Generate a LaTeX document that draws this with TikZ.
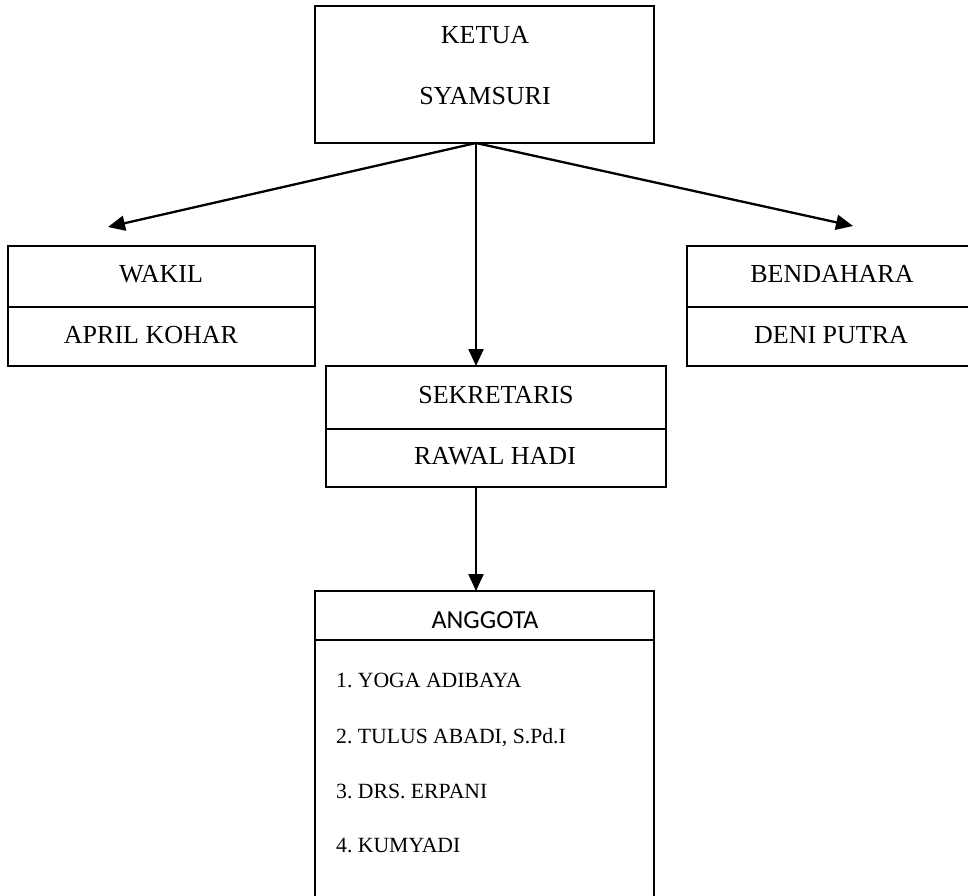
\documentclass[tikz,border=0pt]{standalone}
\usepackage{fontspec}
\setmainfont{Liberation Serif}
\newfontfamily\calib{Carlito}
\usetikzlibrary{arrows.meta}
\frenchspacing
\begin{document}
\begin{tikzpicture}[x=1pt,y=-1pt,
  orgbox/.style={draw,line width=2.3pt,inner sep=0pt},
  lbl/.style={inner sep=0pt,anchor=base,font=\fontsize{26}{30}\selectfont},
  item/.style={inner sep=0pt,anchor=base west,font=\frenchspacing\fontsize{21.7}{25}\selectfont},
  conn/.style={line width=2.3pt,-{Triangle[length=17pt,width=15pt]}},
  divider/.style={line width=2.3pt}]
\useasboundingbox (0,0) rectangle (968,895);
\clip (0,0) rectangle (968,895);
% boxes
\node[orgbox,minimum width=339pt,minimum height=137pt] (ketua) at (484.5,74.5) {};
\node[orgbox,minimum width=307pt,minimum height=120pt] (wakil) at (161.5,306) {};
\node[orgbox,minimum width=290pt,minimum height=120pt] (bendahara) at (832,306) {};
\node[orgbox,minimum width=340pt,minimum height=121pt] (sekretaris) at (496,426.5) {};
\coordinate (agTL) at (315,591);
\coordinate (agTR) at (654,591);
\coordinate (agBL) at (315,905);
\coordinate (agBR) at (654,905);
\draw[divider] (agBL) -- (agTL) -- (agTR) -- (agBR);
% dividers
\draw[divider] (wakil.west |- 0,307) -- (wakil.east |- 0,307);
\draw[divider] (bendahara.west |- 0,307) -- (bendahara.east |- 0,307);
\draw[divider] (sekretaris.west |- 0,429) -- (sekretaris.east |- 0,429);
\draw[divider] (agTL |- 0,640) -- (agTR |- 0,640);
% texts
\node[lbl] (t1) at (485,43) {KETUA};
\node[lbl] (t2) at (485,104) {SYAMSURI};
\node[lbl] (t3) at (161,282) {WAKIL};
\node[lbl] (t4) at (151,343) {APRIL KOHAR};
\node[lbl] (t5) at (832,282) {BENDAHARA};
\node[lbl] (t6) at (831,343) {DENI PUTRA};
\node[lbl] (t7) at (496,403) {SEKRETARIS};
\node[lbl] (t8) at (495,464) {RAWAL HADI};
\node[lbl,font=\calib\fontsize{26}{30}\selectfont] (t9) at (485,628) {ANGGOTA};
\node[item] (m1) at (336,687) {1. YOGA ADIBAYA};
\node[item] (m2) at (336,743) {2. TULUS ABADI, S.Pd.I};
\node[item] (m3) at (336,798) {3. DRS. ERPANI};
\node[item] (m4) at (336,852) {4. KUMYADI};
% connectors
\coordinate (kout) at (476,143);
\coordinate (wtip) at (108,227);
\coordinate (btip) at (853,226);
\coordinate (stip) at (476,366);
\coordinate (sout) at (476,487);
\coordinate (atip) at (476,591);
\draw[conn] (kout) -- (wtip);
\draw[conn] (kout) -- (btip);
\draw[conn] (kout) -- (stip);
\draw[conn] (sout) -- (atip);
\end{tikzpicture}
\end{document}
